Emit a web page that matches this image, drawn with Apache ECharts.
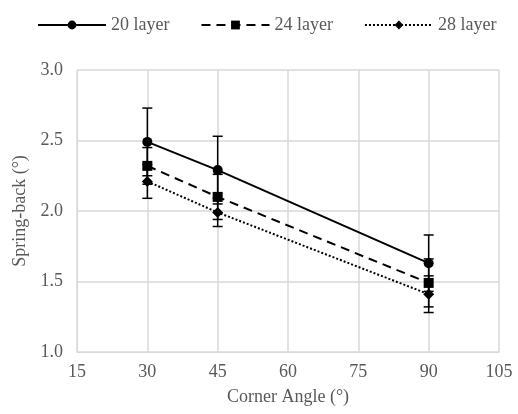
<!DOCTYPE html>
<html>
<head>
<meta charset="utf-8">
<script src="https://cdn.jsdelivr.net/npm/echarts@6/dist/echarts.min.js"></script>
</head>
<body style="margin:0;background:#fff;">
<div id="main" style="width:518px;height:414px;"></div>
<script type="text/javascript">
var angles = [30, 45, 90];
var names = ['20 layer', '24 layer', '28 layer'];
var layer20 = [2.49, 2.29, 1.63];
var layer24 = [2.32, 2.10, 1.49];
var layer28 = [2.21, 1.99, 1.41];
var err20 = [0.24, 0.24, 0.20];
var err24 = [0.13, 0.16, 0.17];
var err28 = [0.12, 0.10, 0.13];
var xTicks = [15, 30, 45, 60, 75, 90, 105];
var yTicks = [1.0, 1.5, 2.0, 2.5, 3.0];

var font = 'Liberation Serif';
var gray = '#595959';
var fs = 18;

var chart = echarts.init(document.getElementById('main'));

function pts(vals) {
    return angles.map(function (a, i) { return [a, vals[i]]; });
}
function errPts(vals, errs) {
    return angles.map(function (a, i) { return [a, vals[i] - errs[i], vals[i] + errs[i]]; });
}

function renderErr(params, api) {
    var lo = api.coord([api.value(0), api.value(1)]);
    var hi = api.coord([api.value(0), api.value(2)]);
    var w = 5;
    var st = { stroke: '#000', lineWidth: 1.5 };
    return {
        type: 'group',
        children: [
            { type: 'line', shape: { x1: lo[0], y1: lo[1], x2: hi[0], y2: hi[1] }, style: st },
            { type: 'line', shape: { x1: lo[0] - w, y1: lo[1], x2: lo[0] + w, y2: lo[1] }, style: st },
            { type: 'line', shape: { x1: hi[0] - w, y1: hi[1], x2: hi[0] + w, y2: hi[1] }, style: st }
        ]
    };
}

var lineDefs = [
    { name: names[0], data: layer20, err: err20, symbol: 'circle', size: 10, type: 'solid' },
    { name: names[1], data: layer24, err: err24, symbol: 'rect', size: 10, type: [9, 6] },
    { name: names[2], data: layer28, err: err28, symbol: 'diamond', size: 11, type: [2, 2] }
];

var series = [];
lineDefs.forEach(function (d) {
    series.push({
        type: 'custom',
        renderItem: renderErr,
        data: errPts(d.data, d.err),
        z: 3,
        silent: true
    });
});
lineDefs.forEach(function (d) {
    series.push({
        name: d.name,
        type: 'line',
        data: pts(d.data),
        symbol: d.symbol,
        symbolSize: d.size,
        itemStyle: { color: '#000' },
        lineStyle: { color: '#000', width: 2, type: d.type },
        z: 4
    });
});

option = {
    animation: false,
    textStyle: { fontFamily: font },
    legend: {
        top: 11,
        left: 32,
        itemWidth: 68,
        itemHeight: 11,
        itemGap: 31,
        textStyle: { color: gray, fontSize: fs, fontFamily: font },
        data: names
    },
    grid: { left: 77, right: 19, top: 70, bottom: 62 },
    xAxis: {
        type: 'value',
        min: 15, max: 105, interval: 15,
        name: 'Corner Angle (°)',
        nameLocation: 'middle',
        nameGap: 36,
        nameTextStyle: { color: gray, fontSize: fs, fontFamily: font },
        axisLine: { lineStyle: { color: '#d9d9d9' } },
        axisTick: { show: false },
        axisLabel: { color: gray, fontSize: fs, fontFamily: font, margin: 11 },
        splitLine: { show: true, lineStyle: { color: '#d9d9d9', width: 1.5 } }
    },
    yAxis: {
        type: 'value',
        min: 1.0, max: 3.0, interval: 0.5,
        name: 'Spring-back (°)',
        nameLocation: 'middle',
        nameGap: 48,
        nameTextStyle: { color: gray, fontSize: fs, fontFamily: font },
        axisLine: { show: true, lineStyle: { color: '#d9d9d9' } },
        axisTick: { show: false },
        axisLabel: { color: gray, fontSize: fs, fontFamily: font, margin: 14,
            formatter: function (v) { return v.toFixed(1); } },
        splitLine: { show: true, lineStyle: { color: '#d9d9d9', width: 1.5 } }
    },
    series: series
};
chart.setOption(option);
</script>
</body>
</html>
